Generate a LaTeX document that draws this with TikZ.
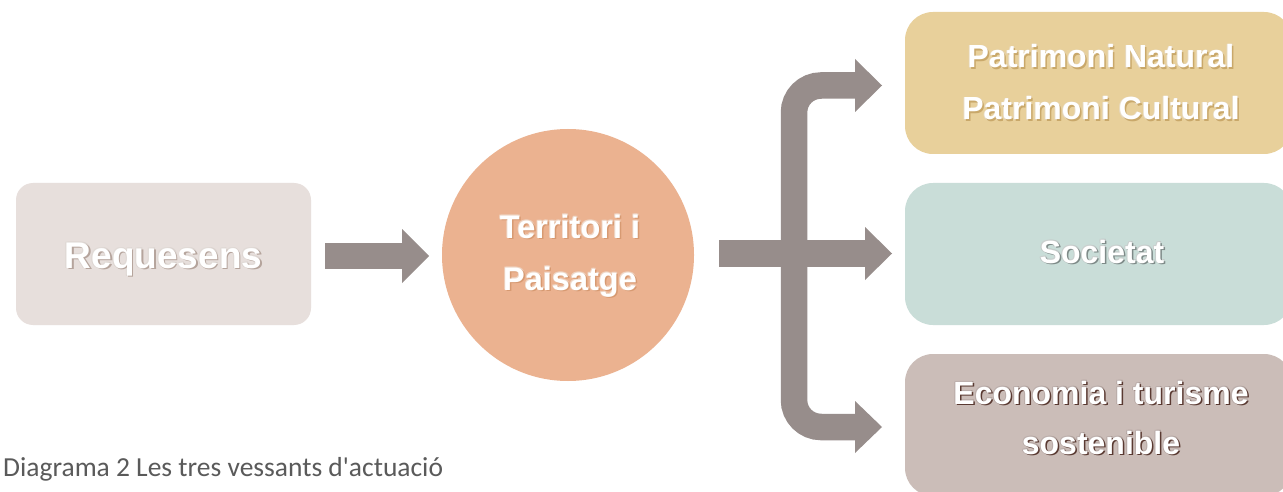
\documentclass[tikz,border=0pt]{standalone}
\usepackage{fontspec}
\setmainfont{Liberation Sans}
\newfontfamily\capfont{Carlito}
\usetikzlibrary{positioning}
\definecolor{boxA}{HTML}{E7DFDC}
\definecolor{circC}{HTML}{EBB290}
\definecolor{arrC}{HTML}{978D8B}
\definecolor{boxY}{HTML}{E8D09B}
\definecolor{boxG}{HTML}{C9DDD8}
\definecolor{boxB}{HTML}{CBBDB8}
\definecolor{capC}{HTML}{5A5A5A}
\definecolor{glA}{HTML}{B5A49C}
\definecolor{glY}{HTML}{C9A86A}
\definecolor{glC}{HTML}{D79A72}
\definecolor{glG}{HTML}{7E8A88}
\definecolor{glB}{HTML}{5A3A32}
\newcommand\glowline[2]{\leavevmode
  \rlap{\kern0.8pt\raisebox{0.8pt}{\color{#1!50!white}#2}}%
  \rlap{\kern-0.8pt\raisebox{-0.8pt}{\color{#1!50!white}#2}}%
  \rlap{\kern-0.8pt\raisebox{0.8pt}{\color{#1!40!white}#2}}%
  \rlap{\kern1.5pt\raisebox{-1.5pt}{\color{#1}#2}}%
  {\color{white}#2}}
\tikzset{
  box/.style={rounded corners=#1, inner sep=0pt, draw=none},
  lbl/.style={font=\bfseries\fontsize{32}{51}\selectfont, align=center, inner sep=0pt},
  shaft/.style={draw=arrC, line width=26.5pt},
  head/.style={fill=arrC},
}
\begin{document}
\begin{tikzpicture}[x=1pt,y=-1pt]
\clip (0,0) rectangle (1283,492);
\fill[white] (0,0) rectangle (1283,492);
% boxes
\node[box=17pt, fill=boxA, minimum width=295pt, minimum height=142pt] (req) at (163.5,254) {};
\node[lbl, anchor=base, font=\bfseries\fontsize{37}{40}\selectfont] (reqt) at (163.5,268) {\glowline{glA}{Requesens}};
\node[circle, fill=circC, minimum size=252pt, inner sep=0pt] (terr) at (568,255) {};
\node[lbl, anchor=base, font=\bfseries\fontsize{32.5}{52}\selectfont] (terrt) at (570,290) {\glowline{glC}{Territori i}\\\glowline{glC}{Paisatge}};
\node[box=28pt, fill=boxY, minimum width=387pt, minimum height=142pt] (pat) at (1098.5,83) {};
\node[lbl, anchor=base, font=\bfseries\fontsize{32}{52}\selectfont] (patt) at (1101,120) {\glowline{glY}{Patrimoni Natural}\\\glowline{glY}{Patrimoni Cultural}};
\node[box=28pt, fill=boxG, minimum width=387pt, minimum height=142pt] (soc) at (1098.5,254) {};
\node[lbl, anchor=base] (soct) at (1102,263) {\glowline{glG}{Societat}};
\node[box=28pt, fill=boxB, minimum width=387pt, minimum height=142pt] (eco) at (1098.5,425) {};
\node[lbl, anchor=base, font=\bfseries\fontsize{32}{50}\selectfont] (ecot) at (1101,454) {\glowline{glB}{Economia i turisme}\\\glowline{glB}{sostenible}};
% arrow Requesens -> Territori
\coordinate (a1s) at (325,256);
\coordinate (a1b) at (402,256);
\coordinate (a1t) at (429,256);
\draw[shaft] (a1s) -- (a1b);
\fill[head] (402,229) -- (a1t) -- (402,283) -- cycle;
% fork
\coordinate (f0) at (719,253.5);
\coordinate (fm) at (865,253.5);
\coordinate (fmt) at (892,253.5);
\draw[shaft] (f0) -- (fm);
\fill[head] (865,227) -- (fmt) -- (865,280) -- cycle;
\coordinate (ft) at (855,85.5);
\coordinate (fb) at (855,427);
\draw[shaft, rounded corners=27pt] (ft) -- (794,85.5) -- (794,427) -- (fb);
\fill[head] (855,59) -- (882,85.5) -- (855,112) -- cycle;
\fill[head] (855,401) -- (882,427) -- (855,453) -- cycle;
% caption
\node[anchor=base west, inner sep=0pt, font=\capfont\fontsize{27.5}{30}\selectfont, text=capC] (cap) at (3,476) {Diagrama 2 Les tres vessants d'actuació};
\end{tikzpicture}
\end{document}
